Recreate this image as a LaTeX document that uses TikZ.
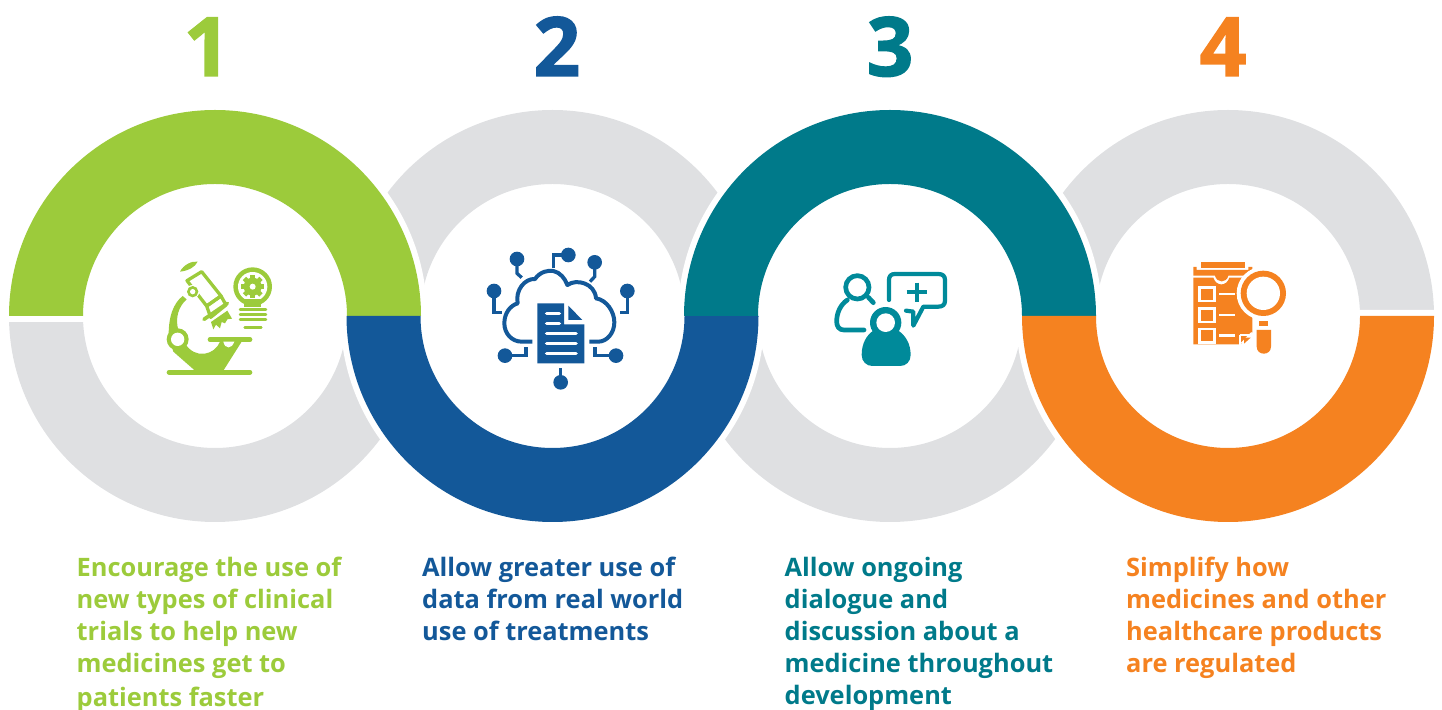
\documentclass[tikz,border=0pt]{standalone}
\usepackage{fontspec}
\setmainfont{Open Sans}
\newfontfamily\numfont[UprightFeatures={FakeBold=1.6},BoldFeatures={FakeBold=1.6}]{Open Sans}
\definecolor{cg}{HTML}{9CCB3B}
\definecolor{cb}{HTML}{135899}
\definecolor{ct}{HTML}{007A8A}
\definecolor{co}{HTML}{F58220}
\definecolor{ci}{HTML}{008A9A}
\definecolor{cy}{HTML}{DFE0E2}
\newcommand{\ringup}[1]{(#1-206,393) arc[start angle=180,end angle=0,radius=206pt] -- (#1+132,393) arc[start angle=0,end angle=180,radius=132pt] -- cycle}
\newcommand{\ringdn}[1]{(#1-206,393) arc[start angle=180,end angle=360,radius=206pt] -- (#1+132,393) arc[start angle=360,end angle=180,radius=132pt] -- cycle}
\tikzset{
  num/.style={font=\fontsize{82}{82}\selectfont\numfont\bfseries,anchor=base,inner sep=0pt},
  body/.style={font=\fontsize{25.4}{32}\selectfont\bfseries,anchor=north west,align=left,inner sep=0pt},
  halo/.style={draw=white,line width=12pt,line join=miter},
  st/.style={line cap=round,line join=round},
  icon/.style={shift={#1},scale=0.33333,yscale=-1}
}
\begin{document}
\begin{tikzpicture}[x=1pt,y=1pt]
\useasboundingbox (0,0) rectangle (1442,709);
% grey half rings
\begin{scope}
\clip (0,0) rectangle (1442,387);
\fill[cy] \ringdn{215};
\end{scope}
\fill[cy] \ringup{552.5};
\fill[cy] \ringdn{890};
\fill[cy] \ringup{1228};
\fill[white] (1300,393) rectangle (1442,399);
% white halos
\draw[halo] \ringup{215};
\draw[halo] \ringdn{552.5};
\draw[halo] \ringup{890};
\draw[halo] \ringdn{1228};
\fill[white] (0,387) rectangle (8,399);
% coloured half rings
\fill[cg] \ringup{215};
\fill[cb] \ringdn{552.5};
\fill[ct] \ringup{890};
\fill[co] \ringdn{1228};
% numbers
\node[num,text=cg] (n1) at (207,633) {1};
\node[num,text=cb] (n2) at (557,633) {2};
\node[num,text=ct] (n3) at (890,633) {3};
\node[num,text=co] (n4) at (1223,633) {4};
% texts
\node[body,text=cg] (t1) at (76.5,152) {Encourage the use of\\new types of clinical\\trials to help new\\medicines get to\\[2pt]patients faster};
\node[body,text=cb] (t2) at (422,152) {Allow greater use of\\data from real world\\use of treatments};
\node[body,text=ct] (t3) at (784.5,152) {Allow ongoing\\dialogue and\\discussion about a\\medicine throughout\\development};
\node[body,text=co] (t4) at (1126,152) {Simplify how\\medicines and other\\healthcare products\\are regulated};
% icon 1: microscope
\begin{scope}[icon={(140,469)}]
\draw[cg,st,line width=4.7pt] (87,397) -- (330,397);
\draw[cg,st,line width=4.7pt] (210,299) -- (330,299);
\fill[cg] (128,168) .. controls (100,190) and (85,230) .. (86,290) -- (100,335) -- (165,392) -- (250,392) -- (305,305) -- (240,305)
  .. controls (225,345) and (165,360) .. (135,310) -- (115,270) .. controls (105,235) and (115,200) .. (140,178) -- cycle;
\fill[white] (250,305) .. controls (255,328) and (275,328) .. (283,305) -- cycle;
\fill[cg] (113,298) circle[radius=33];
\fill[white] (113,298) circle[radius=20];
\draw[cg,line width=3.3pt,line join=round] (141,122) -- (185,95) -- (243,168) -- (200,198) -- cycle;
\draw[cg,line width=3.3pt,line join=round] (200,198) -- (243,168) -- (258,195) -- (212,232) -- cycle;
\draw[cg,st,line width=3.7pt] (192,238) -- (262,190);
\fill[cg] (213,246) -- (262,212) -- (276,236) -- (262,238) -- (255,250) -- (245,246) -- (240,265) -- (228,254) -- (220,268) -- cycle;
\fill[white] (158,155) circle[radius=20];
\fill[cg] (158,155) circle[radius=17];
\fill[white] (158,155) circle[radius=8];
\fill[cg] (120,95) .. controls (130,75) and (155,62) .. (173,65) .. controls (165,82) and (145,92) .. (120,95) -- cycle;
% bulb
\fill[cg] (338,140) circle[radius=58];
\fill[white] (338,140) circle[radius=44];
\foreach \a in {0,45,...,315}{\fill[cg,rotate around={\a:(338,140)}] (331,105) rectangle (345,125);}
\fill[cg] (338,140) circle[radius=27];
\fill[white] (338,140) circle[radius=9];
\fill[cg] (312,178) rectangle (364,200);
\draw[cg,st,line width=2.5pt] (300,209) -- (378,209);
\draw[cg,st,line width=2.5pt] (300,224) -- (378,224);
\draw[cg,st,line width=2.5pt] (300,238) -- (378,238);
\draw[cg,st,line width=2.5pt] (314,262) -- (364,262);
\end{scope}
% icon 2: cloud
\begin{scope}[icon={(470,474)}]
\draw[cb,line width=4pt,line join=round] (187,320) -- (155,320) .. controls (125,320) and (103,295) .. (103,265) .. controls (103,235) and (120,212) .. (143,205)
  .. controls (135,165) and (165,130) .. (195,132) .. controls (210,110) and (235,105) .. (250,108) .. controls (270,112) and (285,130) .. (292,150)
  .. controls (320,130) and (375,145) .. (378,190) .. controls (410,195) and (433,230) .. (433,262) .. controls (433,295) and (410,320) .. (385,320) -- (358,320);
\fill[cb] (202,205) -- (282,205) -- (282,268) -- (343,268) -- (343,385) -- (202,385) -- cycle;
\fill[cb] (295,212) -- (337,255) -- (295,255) -- cycle;
\foreach \yy/\xx in {235/268,265/268,295/318,325/318,355/318}{\draw[white,line cap=round,line width=3.6pt] (230,\yy) -- (\xx,\yy);}
\foreach \cx/\cy in {141/72,295/60,374/82,472/168,72/168,105/362,438/362,272/442}{\fill[cb] (\cx,\cy) circle[radius=22];}
\draw[cb,line width=3.3pt] (141,80) -- (141,115) -- (155,128);
\draw[cb,line width=3.3pt] (280,60) -- (250,60) -- (250,98);
\draw[cb,line width=3.3pt] (374,90) -- (374,125) -- (360,140);
\draw[cb,line width=3.3pt] (472,180) -- (472,233) -- (450,233);
\draw[cb,line width=3.3pt] (72,180) -- (72,233) -- (95,233);
\draw[cb,line width=3.3pt] (115,362) -- (168,362) -- (168,335);
\draw[cb,line width=3.3pt] (425,362) -- (375,362) -- (375,335);
\draw[cb,line width=3.3pt] (272,430) -- (272,400);
\end{scope}
% icon 3: people
\begin{scope}[icon={(820,449)}]
\draw[ci,line width=4.7pt] (112,82) circle[radius=35];
\draw[ci,st,line width=4.7pt] (145,112) -- (160,128);
\draw[ci,st,line width=4.7pt] (82,120) .. controls (60,135) and (50,160) .. (50,185) .. controls (50,200) and (58,210) .. (72,210) -- (132,210);
\draw[ci,st,line width=4.2pt] (207,120) -- (207,60) .. controls (207,48) and (213,42) .. (225,42) -- (355,42) .. controls (368,42) and (375,48) .. (375,60) -- (375,122) .. controls (375,134) and (368,140) .. (355,140) -- (310,140) -- (280,197) -- (280,155) -- (258,152);
\draw[ci,line width=4pt] (260,97) -- (320,97);
\draw[ci,line width=4pt] (290,68) -- (290,127);
\fill[white] (197,188) circle[radius=53];
\fill[ci] (125,285) .. controls (125,250) and (140,225) .. (160,212) -- (235,212) .. controls (255,225) and (272,250) .. (272,285) .. controls (272,305) and (258,318) .. (240,318) -- (157,318) .. controls (140,318) and (125,305) .. (125,285) -- cycle;
\fill[ci] (197,188) circle[radius=47];
\fill[white] (197,188) circle[radius=28];
\end{scope}
% icon 4: checklist
\begin{scope}[icon={(1180,454)}]
\fill[co] (62,22) rectangle (195,40);
\fill[co] (40,36) -- (50,36) -- (50,45) -- (205,45) -- (205,36) -- (217,36) -- (217,62) -- (145,62) .. controls (140,85) and (110,85) .. (105,62) -- (40,62) -- cycle;
\fill[co] (40,68) -- (100,68) .. controls (108,95) and (140,95) .. (148,68) -- (217,68) -- (217,232) -- (182,268) -- (40,268) -- cycle;
\foreach \yy in {97,160,222}{
\draw[white,line width=2.7pt] (58,\yy) rectangle (104,\yy+41);
\draw[white,line width=2.7pt] (118,\yy+20) -- (165,\yy+20);}
\draw[white,line width=1.5pt] (180,240) -- (215,240);
\draw[white,line width=1.5pt] (180,240) -- (180,270);
\draw[white,line width=1.5pt] (184,265) -- (215,233);
\fill[co] (192,248) -- (212,248) -- (192,266) -- cycle;
\fill[white] (250,115) circle[radius=80];
\fill[white] (222,218) rectangle (281,300);
\fill[co] (250,115) circle[radius=68];
\fill[white] (250,115) circle[radius=50];
\fill[co] (238,198) rectangle (265,213);
\fill[co] (230,225) -- (273,225) -- (273,275) .. controls (273,303) and (230,303) .. (230,275) -- cycle;
\end{scope}
\end{tikzpicture}
\end{document}
